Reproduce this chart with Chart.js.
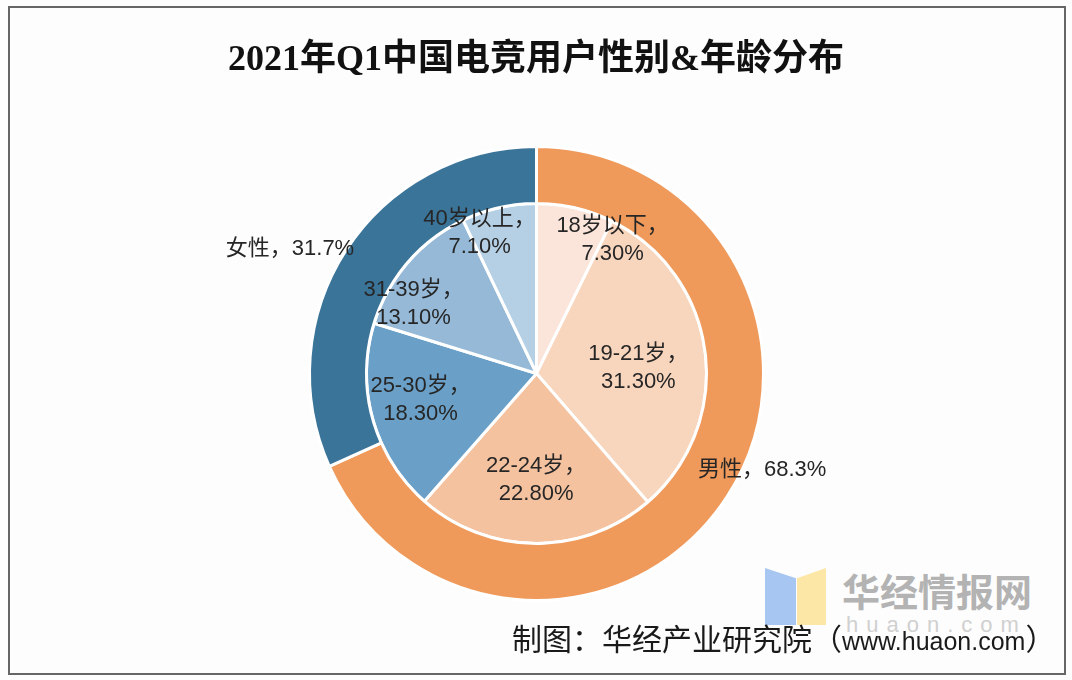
<!DOCTYPE html>
<html>
<head>
<meta charset="utf-8">
<script src="https://cdn.jsdelivr.net/npm/chart.js@4.4.1/dist/chart.umd.min.js"></script>
<style>
  html, body { margin: 0; padding: 0; background: #fff; }
  #wrap { position: relative; width: 1072px; height: 680px; overflow: hidden; background: #fdfdfd; }
  #frame { position: absolute; left: 8px; top: 6px; width: 1054px; height: 665px; border: 2px solid #666; box-sizing: content-box; }
  #title {
    position: absolute; left: 0; width: 1072px; top: 28px; text-align: center;
    font-family: "Liberation Serif", "Noto Sans CJK SC", serif; font-weight: bold;
    font-size: 36px; color: #111;
  }
  #chart { position: absolute; left: 0; top: 0; }
  .logo-b { position: absolute; left: 765px; top: 568px; width: 31px; height: 57px; background: #a7c6f1; clip-path: polygon(0 0, 100% 18%, 100% 100%, 0 100%); }
  .logo-y { position: absolute; left: 797px; top: 568px; width: 29px; height: 57px; background: #fde7a6; clip-path: polygon(0 18%, 100% 0, 100% 100%, 0 100%); }
  #wm { position: absolute; left: 842px; top: 566px; font-family: "Noto Sans CJK SC", sans-serif; font-weight: bold; font-size: 38px; color: #b3b3b3; line-height: 48px; }
  #wm2 { position: absolute; left: 846px; top: 612px; font-family: "Liberation Sans", sans-serif; font-size: 22px; color: #d0d0d0; letter-spacing: 8px; }
  #foot { position: absolute; left: 512px; top: 618px; font-family: "Liberation Sans", "Noto Sans CJK SC", sans-serif; color: #1a1a1a; line-height: 38px; white-space: nowrap; }
  #foot .cj { font-family: "Noto Sans CJK SC", sans-serif; font-size: 30px; }
  #foot .la { font-size: 25px; }
</style>
</head>
<body>
<div id="wrap">
  <div class="logo-b"></div>
  <div class="logo-y"></div>
  <div id="wm">华经情报网</div>
  <div id="wm2">huaon.com</div>
  <canvas id="chart" width="1072" height="680"></canvas>
  <div id="title">2021年Q1中国电竞用户性别&amp;年龄分布</div>
  <div id="foot"><span class="cj">制图：华经产业研究院（</span><span class="la">www.huaon.com</span><span class="cj">）</span></div>
  <div id="frame"></div>
</div>
<script>
// ---- data ----
const genderLabels = ["男性", "女性"];
const genderValues = [68.3, 31.7];
const ageLabels = ["18岁以下", "19-21岁", "22-24岁", "25-30岁", "31-39岁", "40岁以上"];
const ageValues = [7.3, 31.3, 22.8, 18.3, 13.1, 7.1];

const genderColors = ["#ef9a5b", "#3b7499"];
const ageColors = ["#fbe5da", "#f8d5bd", "#f5c2a0", "#6aa0c8", "#95b9d7", "#b5cfe4"];

// label placement: [angle shift (deg), radius as fraction of ring outer radius]
const ageLabelPos = [[16.5, 0.905], [4.4, 0.6], [0, 0.625], [2.8, 0.70], [-11.4, 0.83], [-9.3, 0.89]];
const genderLabelPos = [[-9.9, 1.08], [-6.2, 1.216]];

const labelFont = "22px 'Liberation Sans', 'Noto Sans CJK SC', sans-serif";

const labelPlugin = {
  id: "sliceLabels",
  afterDatasetsDraw(chart) {
    const ctx = chart.ctx;
    ctx.save();
    ctx.font = labelFont;
    ctx.fillStyle = "#262626";
    ctx.textAlign = "center";
    ctx.textBaseline = "middle";
    const place = (arc, shift, frac) => {
      const mid = (arc.startAngle + arc.endAngle) / 2 + shift * Math.PI / 180;
      return { x: arc.x + Math.cos(mid) * arc.outerRadius * frac, y: arc.y + Math.sin(mid) * arc.outerRadius * frac };
    };
    // inner pie: two lines
    chart.getDatasetMeta(1).data.forEach((arc, i) => {
      const p = place(arc, ageLabelPos[i][0], ageLabelPos[i][1]);
      ctx.fillText(ageLabels[i] + "，", p.x, p.y - 14);
      ctx.fillText(ageValues[i].toFixed(2) + "%", p.x, p.y + 14);
    });
    // outer ring: one line
    chart.getDatasetMeta(0).data.forEach((arc, i) => {
      const p = place(arc, genderLabelPos[i][0], genderLabelPos[i][1]);
      ctx.fillText(genderLabels[i] + "，" + genderValues[i].toFixed(1) + "%", p.x, p.y);
    });
    ctx.restore();
  },
};

new Chart(document.getElementById("chart"), {
  type: "doughnut",
  data: {
    labels: ageLabels,
    datasets: [
      { data: genderValues, backgroundColor: genderColors, borderColor: "#fff", borderWidth: 3, weight: 57 },
      { data: ageValues, backgroundColor: ageColors, borderColor: "#fff", borderWidth: 3, weight: 170 },
    ],
  },
  options: {
    responsive: false,
    animation: false,
    cutout: 0,
    layout: { padding: { left: 308, right: 307, top: 145, bottom: 78 } },
    plugins: { legend: { display: false }, tooltip: { enabled: false }, title: { display: false } },
  },
  plugins: [labelPlugin],
});
</script>
</body>
</html>
